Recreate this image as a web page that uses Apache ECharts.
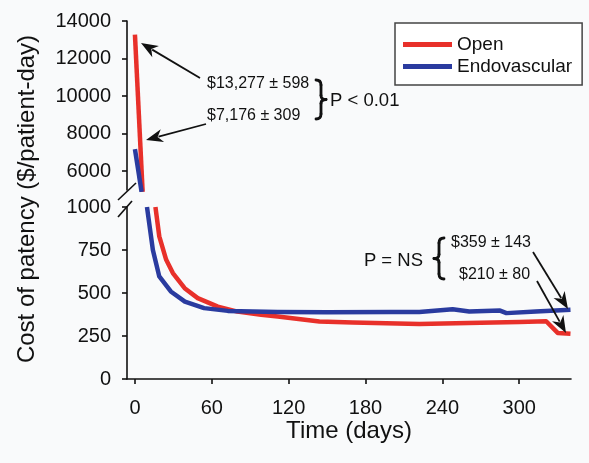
<!DOCTYPE html>
<html>
<head>
<meta charset="utf-8">
<script src="https://cdn.jsdelivr.net/npm/echarts@6/dist/echarts.min.js"></script>
<style>
html,body{margin:0;padding:0;background:#f9fafb;}
#chart{width:589px;height:463px;}
</style>
</head>
<body>
<div id="chart"></div>
<script>
// ---- data ----
var xTicks = [0, 60, 120, 180, 240, 300];
var yTicksUpper = [6000, 8000, 10000, 12000, 14000];
var seriesNames = ['Open', 'Endovascular'];

// upper panel (broken axis, 5000-14000)
var openUpperDays = [0, 6];
var openUpperCost = [13277, 4900];
var endoUpperDays = [0, 5.2];
var endoUpperCost = [7176, 4900];

// lower panel (0-1000)
var openLowerDays = [16, 19, 24.4, 29.6, 38.8, 49, 64.7, 80, 98.5, 111.5, 144, 170, 196, 222, 260, 300, 321, 330, 340];
var openLowerCost = [1000, 829, 693, 616, 528, 470, 421, 392, 373, 363, 334, 328, 324, 320, 326, 332, 336, 268, 263];
var endoLowerDays = [9.4, 14, 19, 28, 39, 54, 72.5, 111.5, 150, 200, 222, 248, 261, 285, 290, 313, 340];
var endoLowerCost = [1000, 750, 596, 509, 450, 412, 396, 389, 388, 389, 390, 406, 392, 398, 383, 392, 402];

function zip(a, b) { return a.map(function (v, i) { return [v, b[i]]; }); }

var RED = '#e8302a', BLUE = '#2a3b9f';
var FONT = 'Liberation Sans, Arial, sans-serif';

var chart = echarts.init(document.getElementById('chart'), null, {renderer: 'canvas'});

var axisLineStyle = {color: '#111', width: 1.6};
var tickStyle = {show: true, length: 5, inside: false, lineStyle: {color: '#111', width: 1.6}};
var plain = function (v) { return String(v); };

function lineSeries(name, color, xi, yi, data) {
  return {
    name: name, type: 'line', xAxisIndex: xi, yAxisIndex: yi,
    data: data, showSymbol: false, symbol: 'none', clip: true,
    lineStyle: {color: color, width: 4.5, cap: 'butt', join: 'round'},
    itemStyle: {color: color}, animation: false
  };
}

var BSTYLE = {stroke: '#111', lineWidth: 2.8, fill: null, lineCap: 'round'};
function brace(x0, y0, y1, dir) {
  var ym = (y0 + y1) / 2, d = dir * 5, p = dir * 10;
  var xs = x0 + d;
  return [
    {type: 'bezierCurve', shape: {x1: x0, y1: y0, cpx1: xs, cpy1: y0, x2: xs, y2: y0 + 5}, style: BSTYLE, z: 100},
    {type: 'line', shape: {x1: xs, y1: y0 + 5, x2: xs, y2: ym - 4}, style: BSTYLE, z: 100},
    {type: 'bezierCurve', shape: {x1: xs, y1: ym - 4, cpx1: xs, cpy1: ym, x2: x0 + p, y2: ym}, style: BSTYLE, z: 100},
    {type: 'bezierCurve', shape: {x1: x0 + p, y1: ym, cpx1: xs, cpy1: ym, x2: xs, y2: ym + 4}, style: BSTYLE, z: 100},
    {type: 'line', shape: {x1: xs, y1: ym + 4, x2: xs, y2: y1 - 5}, style: BSTYLE, z: 100},
    {type: 'bezierCurve', shape: {x1: xs, y1: y1 - 5, cpx1: xs, cpy1: y1, x2: x0, y2: y1}, style: BSTYLE, z: 100}
  ];
}

function arrow(x1, y1, x2, y2) {
  var ang = Math.atan2(y2 - y1, x2 - x1);
  var L = 17, W = 6.5;
  var bx = x2 - L * Math.cos(ang), by = y2 - L * Math.sin(ang);
  var nx = -Math.sin(ang) * W, ny = Math.cos(ang) * W;
  return [
    {type: 'line', shape: {x1: x1, y1: y1, x2: bx + 4 * Math.cos(ang), y2: by + 4 * Math.sin(ang)}, style: {stroke: '#111', lineWidth: 1.8}, z: 100},
    {type: 'polygon', shape: {points: [[x2, y2], [bx + nx, by + ny], [bx + 5 * Math.cos(ang), by + 5 * Math.sin(ang)], [bx - nx, by - ny]]}, style: {fill: '#111'}, z: 100}
  ];
}

function txt(x, y, s, size, align) {
  return {type: 'text', x: x, y: y, z: 100,
    style: {text: s, fill: '#111', font: size + 'px ' + FONT, textAlign: align || 'left', textVerticalAlign: 'middle'}};
}

var graphics = [
  {type: 'text', x: 27, y: 199, rotation: Math.PI / 2, z: 100,
   style: {text: 'Cost of patency ($/patient-day)', fill: '#111', font: '24px ' + FONT, textAlign: 'center', textVerticalAlign: 'middle'}},
  // axis break marks
  {type: 'line', shape: {x1: 118, y1: 200, x2: 136, y2: 183}, style: {stroke: '#111', lineWidth: 1.6}, z: 100},
  {type: 'line', shape: {x1: 118, y1: 217, x2: 132, y2: 201}, style: {stroke: '#111', lineWidth: 1.6}, z: 100},
  txt(207, 84, '$13,277 \u00b1 598', 16),
  txt(207, 116, '$7,176 \u00b1 309', 16),
  txt(330, 101, 'P < 0.01', 18.5),
  txt(423, 261, 'P = NS', 18.5, 'right'),
  txt(451, 243, '$359 \u00b1 143', 16),
  txt(459, 275, '$210 \u00b1 80', 16)
].concat(brace(316, 80, 119, 1), brace(444, 238, 279, -1),
  arrow(200, 78, 141, 43), arrow(206, 124, 146, 140), arrow(533, 252, 568, 309), arrow(537, 281, 566, 333));

var xMin = -6.2, xMax = 340.4;

var option = {
  backgroundColor: '#f9fafb',
  animation: false,
  textStyle: {fontFamily: FONT},
  grid: [
    {left: 127, top: 21, width: 444, height: 169},
    {left: 127, top: 207, width: 444, height: 172}
  ],
  xAxis: [
    {type: 'value', gridIndex: 0, min: xMin, max: xMax, show: false, splitLine: {show: false}},
    {type: 'value', gridIndex: 1, min: xMin, max: xMax,
     name: 'Time (days)', nameLocation: 'middle', nameGap: 37,
     nameTextStyle: {fontSize: 24, color: '#111', fontFamily: FONT},
     axisLine: {show: true, onZero: false, lineStyle: axisLineStyle},
     axisTick: {show: true, length: 5, inside: false, customValues: xTicks, lineStyle: {color: '#111', width: 1.6}},
     axisLabel: {customValues: xTicks, formatter: plain, fontSize: 20, color: '#111', margin: 19, fontFamily: FONT},
     splitLine: {show: false}}
  ],
  yAxis: [
    {type: 'value', gridIndex: 0, min: 5000, max: 14000,
     axisLine: {show: true, onZero: false, lineStyle: axisLineStyle},
     axisTick: {show: true, length: 5, inside: false, customValues: yTicksUpper, lineStyle: {color: '#111', width: 1.6}},
     axisLabel: {customValues: yTicksUpper, formatter: plain, fontSize: 20, color: '#111', margin: 16, fontFamily: FONT},
     splitLine: {show: false}},
    {type: 'value', gridIndex: 1, min: 0, max: 1000, interval: 250,
     axisLine: {show: true, onZero: false, lineStyle: axisLineStyle},
     axisTick: tickStyle,
     axisLabel: {formatter: plain, fontSize: 20, color: '#111', margin: 16, fontFamily: FONT},
     splitLine: {show: false}}
  ],
  legend: {
    data: seriesNames, orient: 'vertical', left: 395, top: 23,
    padding: [12, 10, 9, 8], itemGap: 3, itemWidth: 49, itemHeight: 5, icon: 'rect',
    borderColor: '#444', borderWidth: 1.5, borderRadius: 0, backgroundColor: '#fff',
    textStyle: {fontSize: 19, color: '#111', fontFamily: FONT, padding: [0, 0, 0, 0], lineHeight: 19},
    itemStyle: {borderWidth: 0}
  },
  series: [
    lineSeries(seriesNames[0], RED, 0, 0, zip(openUpperDays, openUpperCost)),
    lineSeries(seriesNames[1], BLUE, 0, 0, zip(endoUpperDays, endoUpperCost)),
    lineSeries(seriesNames[0], RED, 1, 1, zip(openLowerDays, openLowerCost)),
    lineSeries(seriesNames[1], BLUE, 1, 1, zip(endoLowerDays, endoLowerCost))
  ],
  graphic: graphics
};
chart.setOption(option);
</script>
</body>
</html>
